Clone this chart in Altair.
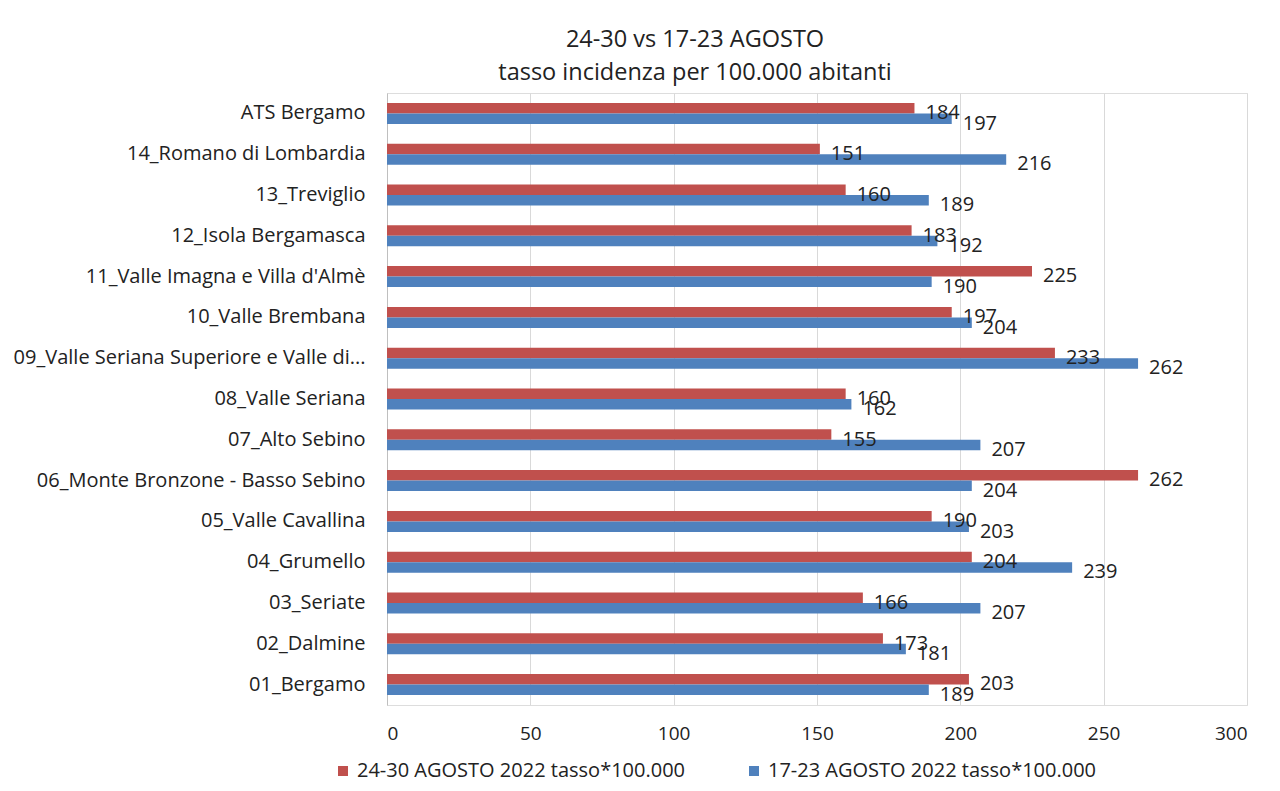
import altair as alt
import pandas as pd

categories = [
    "ATS Bergamo",
    "14_Romano di Lombardia",
    "13_Treviglio",
    "12_Isola Bergamasca",
    "11_Valle Imagna e Villa d'Almè",
    "10_Valle Brembana",
    "09_Valle Seriana Superiore e Valle di...",
    "08_Valle Seriana",
    "07_Alto Sebino",
    "06_Monte Bronzone - Basso Sebino",
    "05_Valle Cavallina",
    "04_Grumello",
    "03_Seriate",
    "02_Dalmine",
    "01_Bergamo",
]
series_names = ["24-30 AGOSTO 2022 tasso*100.000", "17-23 AGOSTO 2022 tasso*100.000"]
values_2430 = [184, 151, 160, 183, 225, 197, 233, 160, 155, 262, 190, 204, 166, 173, 203]
values_1723 = [197, 216, 189, 192, 190, 204, 262, 162, 207, 204, 203, 239, 207, 181, 189]
colors = ["#C0504D", "#4F81BD"]

rows = []
for c, a, b in zip(categories, values_2430, values_1723):
    rows.append({"cat": c, "serie": series_names[0], "val": a})
    rows.append({"cat": c, "serie": series_names[1], "val": b})
df = pd.DataFrame(rows)

FONT = "Open Sans"

y_enc = alt.Y("cat:N", sort=categories,
              scale=alt.Scale(paddingInner=0.485, paddingOuter=0.2425),
              axis=alt.Axis(title=None, labelFontSize=20, labelFont=FONT, labelColor="#222222",
                            labelPadding=22, ticks=False, domainColor="#BFBFBF", labelLimit=500,
                            grid=False))
x_enc = alt.X("val:Q", scale=alt.Scale(domain=[0, 300]),
              axis=alt.Axis(title=None, values=[0, 50, 100, 150, 200, 250, 300], labelFontSize=19,
                            labelFont=FONT, labelColor="#222222", ticks=False, domain=False,
                            grid=True, gridColor="#D9D9D9", labelPadding=19))
yoff = alt.YOffset("serie:N", sort=series_names)
color = alt.Color("serie:N", sort=series_names,
                  scale=alt.Scale(domain=series_names, range=colors),
                  legend=alt.Legend(title=None, orient="none", direction="horizontal",
                                    legendX=-54, legendY=668, symbolType="square",
                                    symbolSize=100, symbolStrokeWidth=0, labelFontSize=20,
                                    labelFont=FONT, labelColor="#222222", columnPadding=58,
                                    labelOffset=4, labelLimit=600))

bars = alt.Chart(df).mark_bar().encode(y=y_enc, x=x_enc, yOffset=yoff, color=color)
labels = alt.Chart(df).mark_text(align="left", baseline="middle", dx=11, dy=5,
                                 fontSize=20, font=FONT, color="#222222").encode(
    y=alt.Y("cat:N", sort=categories), x="val:Q", yOffset=yoff, text="val:Q")

chart = (bars + labels).properties(
    width=860, height=612,
    autosize=alt.AutoSizeParams(type="none"),
    padding={"left": 379, "top": 85, "right": 25, "bottom": 78},
    title=alt.TitleParams(["24-30 vs 17-23 AGOSTO", "tasso incidenza per 100.000 abitanti"],
                          anchor="middle", frame="group", dx=-122, offset=9, fontSize=23.5,
                          font=FONT, fontWeight="normal", color="#222222", lineHeight=33),
).configure_view(stroke=None).configure(background="white")

chart.save("out.html", embed_options={"renderer": "svg", "actions": False})
